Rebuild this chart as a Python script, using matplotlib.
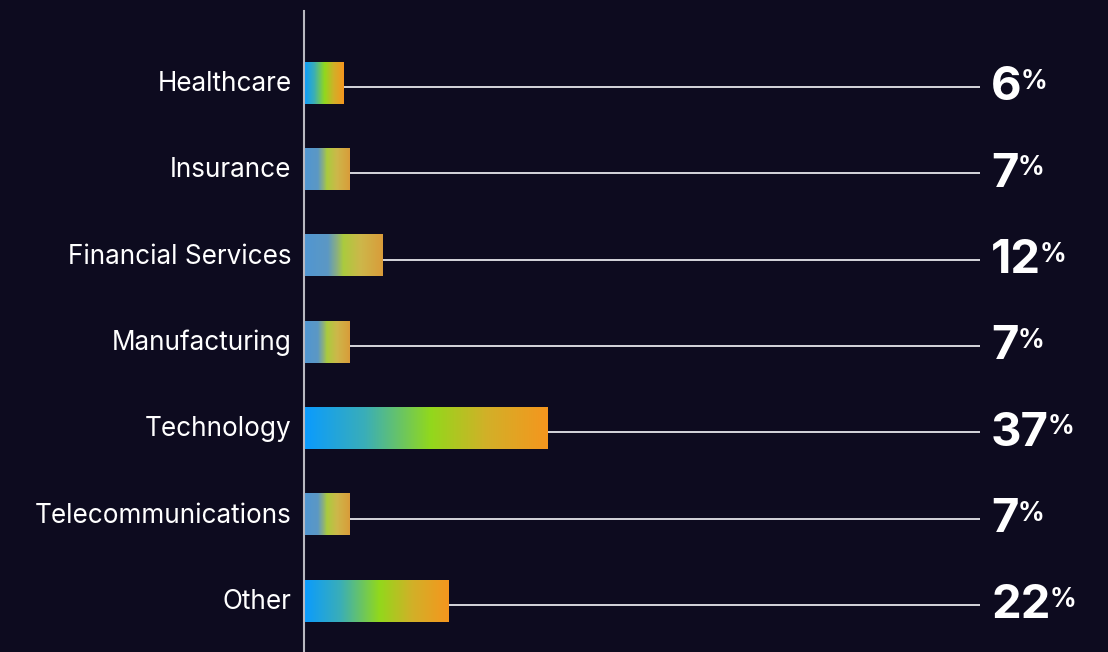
import numpy as np
import matplotlib
matplotlib.use("Agg")
import matplotlib.pyplot as plt
from matplotlib.colors import LinearSegmentedColormap

# data
industries = ["Healthcare", "Insurance", "Financial Services", "Manufacturing",
              "Technology", "Telecommunications", "Other"]
shares = [6, 7, 12, 7, 37, 7, 22]
vivid = [True, False, False, False, True, False, True]

BG = "#0d0b1f"
LINE_END = 102.9

vivid_cmap = LinearSegmentedColormap.from_list(
    "vivid", [(0.0, "#0a9bff"), (0.25, "#3aaeb8"), (0.52, "#92d81c"),
              (0.75, "#d2b028"), (1.0, "#f5961e")])
muted_cmap = LinearSegmentedColormap.from_list(
    "muted", [(0.0, "#5096d2"), (0.3, "#5c98c4"), (0.42, "#8cb07e"),
              (0.5, "#aacb3e"), (0.72, "#cdb74a"), (1.0, "#d99c3a")])

plt.rcParams['font.family'] = ['Inter', 'DejaVu Sans']

fig = plt.figure(figsize=(11.08, 6.52), dpi=100, facecolor=BG)
ax = fig.add_axes([304 / 1108, 0, 804 / 1108, 641 / 652])
ax.set_facecolor(BG)
ax.set_xlim(0, 122.4)
ax.set_ylim(6.59, -0.834)

bar_h = 0.48
grad = np.linspace(0, 1, 256).reshape(1, -1)

for i, (name, val, viv) in enumerate(zip(industries, shares, vivid)):
    cmap = vivid_cmap if viv else muted_cmap
    ax.imshow(grad, cmap=cmap, aspect='auto', interpolation='bilinear',
              extent=(0, val, i + bar_h / 2, i - bar_h / 2), zorder=2)
    ax.plot([val, LINE_END], [i + 0.045, i + 0.045], color="#e6e6ea", lw=1.3,
            zorder=1, solid_capstyle='butt')
    ax.text(-1.9, i + 0.01, name, ha='right', va='center', color='white',
            fontsize=18.8)

fig.canvas.draw()
renderer = fig.canvas.get_renderer()
for i, val in enumerate(shares):
    t = ax.text(104.6, i + 0.06, str(val), ha='left', va='center',
                color='white', fontsize=34, fontweight='bold')
    bb = t.get_window_extent(renderer=renderer)
    ax.annotate("%", xy=(bb.x1, bb.y1), xycoords='figure pixels',
                xytext=(-1, -2), textcoords='offset points',
                ha='left', va='top', color='white', fontsize=19,
                fontweight='bold')

ax.set_xticks([])
ax.set_yticks([])
for s in ['top', 'right', 'bottom']:
    ax.spines[s].set_visible(False)
ax.spines['left'].set_color("#b8b8c0")
ax.spines['left'].set_linewidth(1.5)

fig.savefig("out.png", dpi=100, facecolor=BG)
